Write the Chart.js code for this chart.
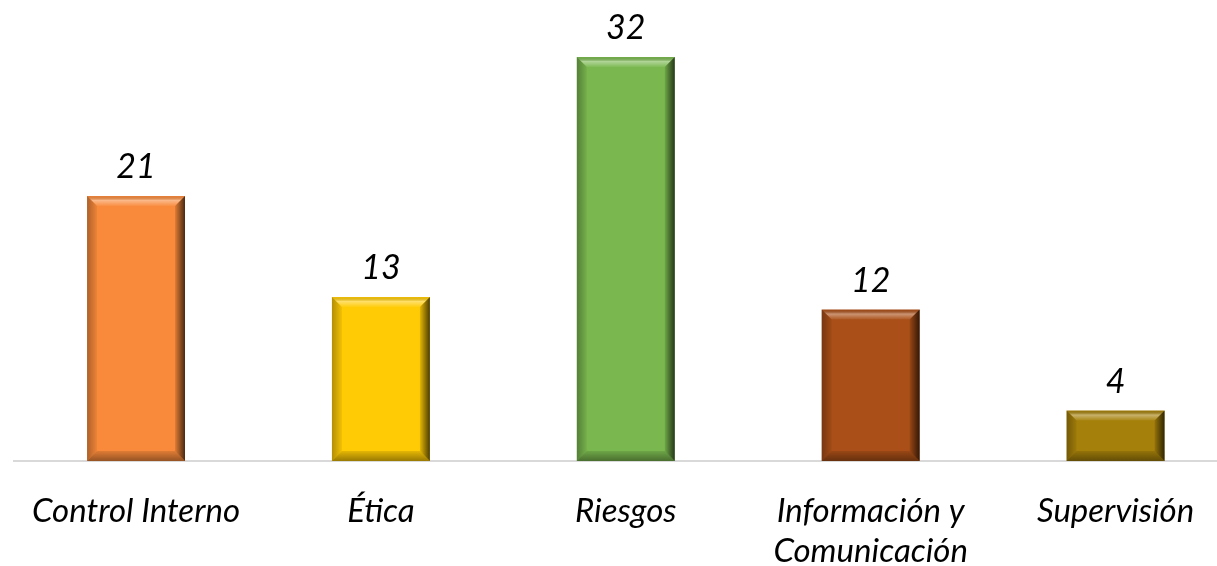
<!DOCTYPE html>
<html>
<head>
<meta charset="utf-8">
<script src="https://cdn.jsdelivr.net/npm/chart.js@4.4.0/dist/chart.umd.min.js"></script>
<style>
  html, body { margin: 0; padding: 0; background: #fff; overflow: hidden; }
  #wrap { width: 1238px; height: 566px; }
</style>
</head>
<body>
<div id="wrap"><canvas id="barChart"></canvas></div>
<script>
var categorias = ['Control Interno', 'Ética', 'Riesgos', ['Información y', 'Comunicación'], 'Supervisión'];
var valores = [21, 13, 32, 12, 4];
var colores = ['#F98A3B', '#FFCB05', '#7AB84F', '#AA4F17', '#A5800A'];

var fuente = "Lato, 'Open Sans', sans-serif";

// bisel sobre cada barra (luz arriba, sombra a la derecha)
var biselPlugin = {
    id: 'bisel',
    afterDatasetsDraw: function (chart) {
        var ctx = chart.ctx;
        var meta = chart.getDatasetMeta(0);
        meta.data.forEach(function (bar) {
            var w = bar.width, l = bar.x - w / 2, r = bar.x + w / 2, t = bar.y, b = bar.base;
            var e = 10;
            ctx.save();
            // arriba
            ctx.beginPath();
            ctx.moveTo(l, t); ctx.lineTo(r, t); ctx.lineTo(r - e, t + e); ctx.lineTo(l + e, t + e); ctx.closePath();
            var g = ctx.createLinearGradient(0, t, 0, t + e);
            g.addColorStop(0, 'rgba(0,0,0,0.05)');
            g.addColorStop(0.45, 'rgba(255,255,255,0.4)');
            g.addColorStop(1, 'rgba(255,255,255,0.05)');
            ctx.fillStyle = g; ctx.fill();
            // derecha
            ctx.beginPath();
            ctx.moveTo(r, t); ctx.lineTo(r, b); ctx.lineTo(r - e, b - e); ctx.lineTo(r - e, t + e); ctx.closePath();
            g = ctx.createLinearGradient(r - e, 0, r, 0);
            g.addColorStop(0, 'rgba(0,0,0,0.1)');
            g.addColorStop(1, 'rgba(0,0,0,0.7)');
            ctx.fillStyle = g; ctx.fill();
            // izquierda
            ctx.beginPath();
            ctx.moveTo(l, t); ctx.lineTo(l + e, t + e); ctx.lineTo(l + e, b - e); ctx.lineTo(l, b); ctx.closePath();
            g = ctx.createLinearGradient(l, 0, l + e, 0);
            g.addColorStop(0, 'rgba(0,0,0,0.3)');
            g.addColorStop(1, 'rgba(0,0,0,0.05)');
            ctx.fillStyle = g; ctx.fill();
            // abajo
            ctx.beginPath();
            ctx.moveTo(l, b); ctx.lineTo(l + e, b - e); ctx.lineTo(r - e, b - e); ctx.lineTo(r, b); ctx.closePath();
            g = ctx.createLinearGradient(0, b - e, 0, b);
            g.addColorStop(0, 'rgba(0,0,0,0.1)');
            g.addColorStop(1, 'rgba(0,0,0,0.4)');
            ctx.fillStyle = g; ctx.fill();
            ctx.restore();
        });
    }
};

// etiquetas de valor encima de las barras
var valorPlugin = {
    id: 'valores',
    afterDatasetsDraw: function (chart) {
        var ctx = chart.ctx;
        var ds = chart.data.datasets[0];
        chart.getDatasetMeta(0).data.forEach(function (bar, i) {
            ctx.save();
            ctx.font = 'italic 34px ' + fuente;
            ctx.fillStyle = '#000';
            ctx.textAlign = 'center';
            ctx.textBaseline = 'alphabetic';
            ctx.fillText(ds.data[i], bar.x, bar.y - 18);
            ctx.restore();
        });
    }
};

var chart = new Chart(document.getElementById('barChart'), {
    type: 'bar',
    data: {
        labels: categorias,
        datasets: [{
            data: valores,
            backgroundColor: colores,
            borderWidth: 0,
            barPercentage: 0.4,
            categoryPercentage: 1
        }]
    },
    options: {
        responsive: true,
        maintainAspectRatio: false,
        animation: false,
        layout: { padding: { left: 10, right: 0, top: 57, bottom: 0 } },
        plugins: { legend: { display: false }, tooltip: { enabled: false } },
        scales: {
            x: {
                grid: { display: false, drawTicks: false },
                border: { display: true, color: '#d9d9d9', width: 2 },
                ticks: {
                    color: '#000',
                    padding: 31,
                    maxRotation: 0,
                    autoSkip: false,
                    font: { family: fuente, size: 33, style: 'italic', lineHeight: 1.2 }
                },
                afterFit: function (scale) { scale.height = 105; }
            },
            y: {
                display: false,
                min: 0,
                max: 32
            }
        }
    },
    plugins: [biselPlugin, valorPlugin]
});
</script>
</body>
</html>
